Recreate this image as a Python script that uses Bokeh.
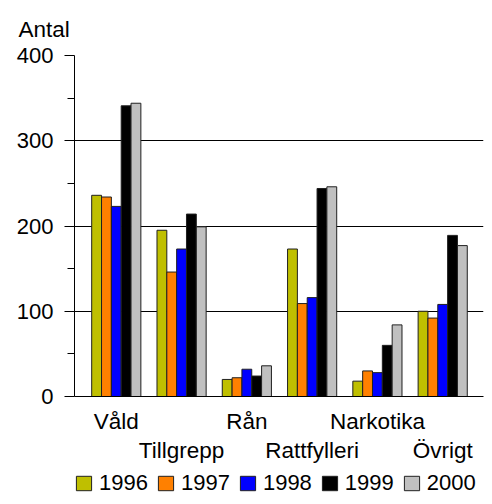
from bokeh.plotting import figure
from bokeh.models import (ColumnDataSource, Range1d, FixedTicker,
                          Legend, LegendItem)
from bokeh.layouts import column
from bokeh.embed import file_html
from bokeh.resources import INLINE

categories = ["Våld", "Tillgrepp", "Rån", "Rattfylleri", "Narkotika", "Övrigt"]
years = ["1996", "1997", "1998", "1999", "2000"]
v1996 = [236, 195, 20, 173, 18, 100]
v1997 = [234, 146, 22, 109, 30, 92]
v1998 = [223, 173, 32, 116, 28, 108]
v1999 = [341, 214, 24, 244, 60, 189]
v2000 = [344, 199, 36, 246, 84, 177]
series = [v1996, v1997, v1998, v1999, v2000]
colors = ["#BFBF00", "#FF8000", "#0000FF", "#000000", "#C0C0C0"]
y_ticks = [0, 100, 200, 300, 400]

FONT = "Liberation Sans"
FS_CAT = "22.5px"
FS = "22px"

p = figure(width=484, height=466, output_backend="svg", toolbar_location=None,
           x_range=Range1d(-0.64, 5.625), y_range=Range1d(0, 400),
           min_border_left=74, min_border_right=1, min_border_top=55,
           min_border_bottom=70)
p.outline_line_color = None
p.background_fill_color = "white"
p.border_fill_color = "white"

p.title.text = "Antal"
p.title.text_font = FONT
p.title.text_font_size = FS_CAT
p.title.text_font_style = "normal"
p.title.text_color = "black"
p.title.align = "left"
p.title.offset = -56
p.title.standoff = 28

# y axis
ya = p.yaxis[0]
ya.ticker = FixedTicker(ticks=y_ticks, minor_ticks=[50, 150, 250, 350])
ya.major_label_text_font = FONT
ya.major_label_text_font_size = FS
ya.major_label_text_color = "black"
ya.axis_line_color = "black"
ya.major_tick_line_color = "black"
ya.minor_tick_line_color = "black"
ya.major_tick_out = 10
ya.major_tick_in = 0
ya.minor_tick_out = 7
ya.minor_tick_in = 0
ya.major_label_standoff = 11

p.xgrid.visible = False
p.ygrid.ticker = FixedTicker(ticks=[100, 200, 300, 400])
p.ygrid.grid_line_color = "black"
p.ygrid.grid_line_width = 1

n = len(categories)
bar_w = 0.1506
for j, (vals, col) in enumerate(zip(series, colors)):
    xs = [i + (j - 2) * bar_w for i in range(n)]
    src = ColumnDataSource(dict(x=xs, top=vals))
    p.vbar(x="x", top="top", width=bar_w, bottom=0, source=src,
           fill_color=col, line_color="#202020", line_width=1)

# category axis: alternate labels on two rows
xa = p.xaxis[0]
xa.ticker = FixedTicker(ticks=list(range(n)))
xa.major_label_overrides = {i: (categories[i] if i % 2 == 0 else "\n" + categories[i])
                            for i in range(n)}
xa.major_label_text_font = FONT
xa.major_label_text_font_size = FS_CAT
xa.major_label_text_color = "black"
xa.major_label_text_line_height = 1.16
xa.major_tick_out = 0
xa.major_tick_in = 0
xa.major_tick_line_color = None
xa.minor_tick_line_color = None
xa.axis_line_color = "black"
xa.major_label_standoff = 12

# legend strip: hidden renderers carrying each year's series feed the legend
p2 = figure(width=484, height=30, output_backend="svg", toolbar_location=None,
            x_range=Range1d(0, 1), y_range=Range1d(0, 1),
            x_axis_location=None, y_axis_location=None, min_border=0)
p2.outline_line_color = None
p2.grid.visible = False
leg_rs = []
for j, (vals, col) in enumerate(zip(series, colors)):
    xs = [i + (j - 2) * bar_w for i in range(n)]
    src = ColumnDataSource(dict(x=xs, top=vals))
    r = p2.vbar(x="x", top="top", width=bar_w, source=src,
                fill_color=col, line_color="#202020", line_width=1)
    r.visible = False
    leg_rs.append(r)
items = [LegendItem(label=y, renderers=[r]) for y, r in zip(years, leg_rs)]
legend = Legend(items=items, orientation="horizontal", location=(0, 0),
                label_text_font=FONT, label_text_font_size=FS,
                label_text_color="black",
                glyph_width=19, glyph_height=18, label_standoff=6, spacing=8,
                padding=0, margin=0, border_line_color=None,
                background_fill_alpha=0, inactive_fill_alpha=0)
p2.add_layout(legend, "center")

layout = column(p, p2, spacing=0)
open("out.html", "w").write(file_html(layout, INLINE))
